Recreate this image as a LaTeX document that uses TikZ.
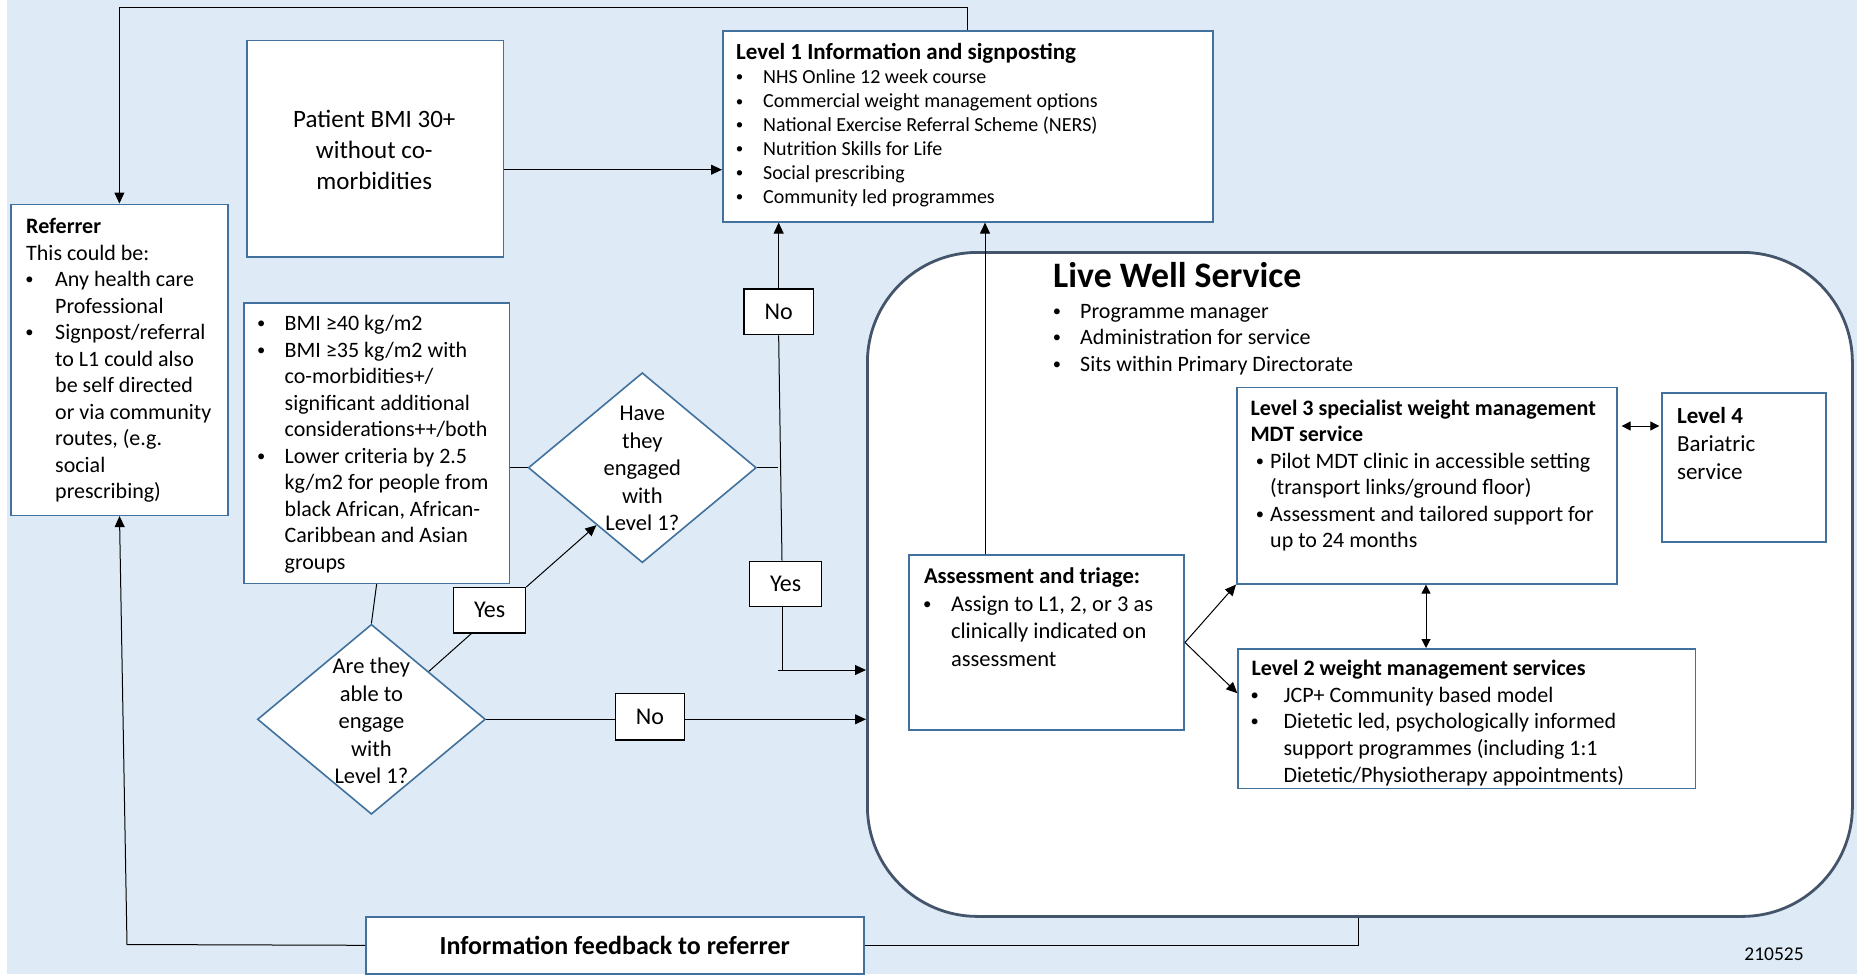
\documentclass[tikz,border=0pt]{standalone}
\usepackage{fontspec}
\usepackage{graphicx}
\setmainfont{Carlito}
\usetikzlibrary{arrows.meta,shapes.geometric,calc}
\definecolor{bgblue}{RGB}{222,235,247}
\definecolor{bdblue}{RGB}{65,113,156}
\definecolor{lwline}{RGB}{68,84,106}
\newcommand{\fs}[2]{\fontsize{#1}{#2}\selectfont}
\newcommand{\bul}[1]{\hspace*{#1}\makebox[0pt]{\raisebox{0.08em}{\scalebox{0.75}{\textbullet}}}}
\tikzset{
  box/.style={draw=bdblue, line width=1.6pt, fill=white, rectangle, inner sep=0pt, anchor=north west},
  lbl/.style={draw=black, line width=1.3pt, fill=white, rectangle, inner sep=0pt, anchor=north west, font=\fs{24}{28}},
  dia/.style={draw=bdblue, line width=1.6pt, fill=white, diamond, inner sep=0pt, minimum width=228pt, minimum height=190pt},
  txt/.style={inner sep=0pt, anchor=base west},
  ctxt/.style={inner sep=0pt, align=center},
  conn/.style={draw=black, line width=1pt},
  arr/.style={conn, -{Triangle[length=11pt,width=10pt]}},
  darr/.style={conn, {Triangle[length=9pt,width=9pt]}-{Triangle[length=9pt,width=9pt]}},
}
\begin{document}
\begin{tikzpicture}[x=1pt,y=-1pt]
\useasboundingbox (0,0) rectangle (1857,974);
\fill[bgblue] (7,0) rectangle (1857,974);

% Live Well service container
\node[draw=lwline, line width=2.8pt, fill=white, rectangle, rounded corners=110pt, inner sep=0pt, anchor=north west,
      minimum width=985pt, minimum height=664pt] (lw) at (866,251) {};
\node[inner sep=0pt, anchor=west, font=\fs{35.8}{40}\bfseries] (lwT) at (1053,275) {Live Well Service};
\node[txt, font=\fs{22}{26.5}] (lwB) at (1051,318) {\begin{tabular}[t]{@{}p{29pt}@{}l@{}}
\bul{5.7pt} & Programme manager\\
\bul{5.7pt} & Administration for service\\
\bul{5.7pt} & Sits within Primary Directorate
\end{tabular}};

% boxes
\node[box, minimum width=217pt, minimum height=311pt] (ref) at (10.4,203.5) {};
\node[box, minimum width=256.6pt, minimum height=216.7pt] (pat) at (246,39.6) {};
\node[box, minimum width=490pt, minimum height=191pt] (l1) at (722,30) {};
\node[box, minimum width=265.7pt, minimum height=280.5pt] (crit) at (243,302) {};
\node[box, minimum width=380pt, minimum height=196.5pt] (l3) at (1236,386.5) {};
\node[box, minimum width=163.7pt, minimum height=148.7pt] (l4) at (1661.3,392.3) {};
\node[box, minimum width=275pt, minimum height=175.3pt] (as) at (908.4,554) {};
\node[box, minimum width=457.3pt, minimum height=139.7pt] (l2) at (1237.3,648) {};
\node[box, minimum width=498pt, minimum height=57pt, font=\fs{26}{30}\bfseries] (fb) at (365,916) {Information feedback to referrer};

\node[dia] (d1) at (642.3,467.7) {};
\node[dia] (d2) at (371.4,719.3) {};

% texts
\node[txt, font=\fs{22}{26.5}] (refT) at (26,233.6) {\begin{tabular}[t]{@{}p{29pt}@{}l@{}}
\multicolumn{2}{@{}l@{}}{\bfseries Referrer}\\
\multicolumn{2}{@{}l@{}}{This could be:}\\
\bul{3.3pt} & Any health care\\
 & Professional\\
\bul{3.3pt} & Signpost/referral\\
 & to L1 could also\\
 & be self directed\\
 & or via community\\
 & routes, (e.g.\\
 & social\\
 & prescribing)
\end{tabular}};
\node[ctxt, font=\fs{25}{31}] (patT) at (374.3,149.8) {Patient BMI 30+\\without co-\\morbidities};
\node[txt, font=\fs{20}{24}] (l1T) at (736,59.6) {\begin{tabular}[t]{@{}p{27pt}@{}l@{}}
\multicolumn{2}{@{}l@{}}{\fs{23}{24}\bfseries Level 1 Information and signposting}\\
\bul{3.4pt} & NHS Online 12 week course\\
\bul{3.4pt} & Commercial weight management options\\
\bul{3.4pt} & National Exercise Referral Scheme (NERS)\\
\bul{3.4pt} & Nutrition Skills for Life\\
\bul{3.4pt} & Social prescribing\\
\bul{3.4pt} & Community led programmes
\end{tabular}};
\node[txt, font=\fs{22}{26.5}] (critT) at (255.5,330.5) {\begin{tabular}[t]{@{}p{29pt}@{}l@{}}
\bul{5.5pt} & BMI ≥40 kg/m2\\
\bul{5.5pt} & BMI ≥35 kg/m2 with\\
 & co-morbidities+/\\
 & significant additional\\
 & considerations++/both\\
\bul{5.5pt} & Lower criteria by 2.5\\
 & kg/m2 for people from\\
 & black African, African-\\
 & Caribbean and Asian\\
 & groups
\end{tabular}};
\node[ctxt, font=\fs{22.5}{27.5}] (d1T) at (642.3,468.5) {Have\\they\\engaged\\with\\Level 1?};
\node[ctxt, font=\fs{22.5}{27.5}] (d2T) at (371.4,721) {Are they\\able to\\engage\\with\\Level 1?};
\node[txt, font=\fs{22}{26.5}] (l3T) at (1250.3,415) {\begin{tabular}[t]{@{}p{19.7pt}@{}l@{}}
\multicolumn{2}{@{}l@{}}{\bfseries Level 3 specialist weight management}\\
\multicolumn{2}{@{}l@{}}{\bfseries MDT service}\\
\bul{9.5pt} & Pilot MDT clinic in accessible setting\\
 & (transport links/ground floor)\\
\bul{9.5pt} & Assessment and tailored support for\\
 & up to 24 months
\end{tabular}};
\node[txt, font=\fs{23}{28.4}] (l4T) at (1676.8,423) {\begin{tabular}[t]{@{}l@{}}
\bfseries Level 4\\
Bariatric\\
service
\end{tabular}};
\node[txt, font=\fs{22.5}{27.8}] (asT) at (923.9,583.2) {\begin{tabular}[t]{@{}p{26.9pt}@{}l@{}}
\multicolumn{2}{@{}l@{}}{\bfseries Assessment and triage:}\\
\bul{3.1pt} & Assign to L1, 2, or 3 as\\
 & clinically indicated on\\
 & assessment
\end{tabular}};
\node[txt, font=\fs{22}{26.7}] (l2T) at (1251.4,675.3) {\begin{tabular}[t]{@{}p{32pt}@{}l@{}}
\multicolumn{2}{@{}l@{}}{\bfseries Level 2 weight management services}\\
\bul{3.2pt} & JCP+ Community based model\\
\bul{3.2pt} & Dietetic led, psychologically informed\\
 & support programmes (including 1:1\\
 & Dietetic/Physiotherapy appointments)
\end{tabular}};
\node[inner sep=0pt, font=\fs{19.5}{23}] (code) at (1774,954) {210525};

% label boxes
\node[lbl, minimum width=69.4pt, minimum height=45.7pt] (no1) at (743.3,288.3) {No};
\node[lbl, minimum width=72pt, minimum height=45.3pt] (yes1) at (749,560.7) {Yes};
\node[lbl, minimum width=72pt, minimum height=45.3pt] (yes2) at (453,587) {Yes};
\node[lbl, minimum width=68.8pt, minimum height=46.6pt] (no2) at (614.8,692.7) {No};

% helper coordinates
\coordinate (topL) at (119.4,7.5);
\coordinate (topR) at (967,7.5);
\coordinate (pl1) at (0,169.7);
\coordinate (vx) at (778.3,467.7);
\coordinate (vyes) at (782,0);
\coordinate (hy) at (778,670);
\coordinate (c119) at (119.5,0);
\coordinate (fbL) at (127,944.5);
\coordinate (cfx) at (1358.7,0);
\coordinate (c985) at (985,0);
\coordinate (c426) at (0,426);
\coordinate (c1426) at (1426,0);
\coordinate (c719) at (0,719.3);

% connectors
\draw[arr] (topR |- l1.north) -- (topR) -- (topL) -- (topL |- ref.north);
\draw[arr] (pat.east |- pl1) -- (l1.west |- pl1);
\draw[conn] (crit.east |- d1.west) -- (d1.west);
\draw[conn] (d1.east) -- (vx);
\draw[arr] (no1.north) -- (no1.north |- l1.south);
\draw[conn] (no1.south) -- (yes1.north -| vyes);
\draw[conn] (yes1.south -| vyes) -- (vyes |- hy);
\draw[arr] (hy) -- (lw.west |- hy);
\draw[conn] (crit.south) -- (d2.north);
\draw[conn] (d2.north east) -- ($(yes2.south west)!0.25!(yes2.south east)$);
\draw[arr] (yes2.north east) -- ($(d1.west)!0.6!(d1.south)$);
\draw[conn] (d2.east) -- (no2.west |- c719);
\draw[arr] (no2.east |- c719) -- (lw.west |- c719);
\draw[arr] (fb.west) -- (fbL) -- (ref.south -| c119);
\draw[conn] (fb.east) -| (lw.south -| cfx);
\draw[arr] (as.north -| c985) -- (l1.south -| c985);
\draw[arr] (as.east) -- (l3.south west);
\draw[arr] (as.east) -- ($(l2.north west)!0.32!(l2.south west)$);
\draw[darr] ($(l3.east |- c426)+(4,0)$) -- ($(l4.west |- c426)+(-2,0)$);
\draw[darr] (l3.south -| c1426) -- (l2.north -| c1426);
\end{tikzpicture}
\end{document}
